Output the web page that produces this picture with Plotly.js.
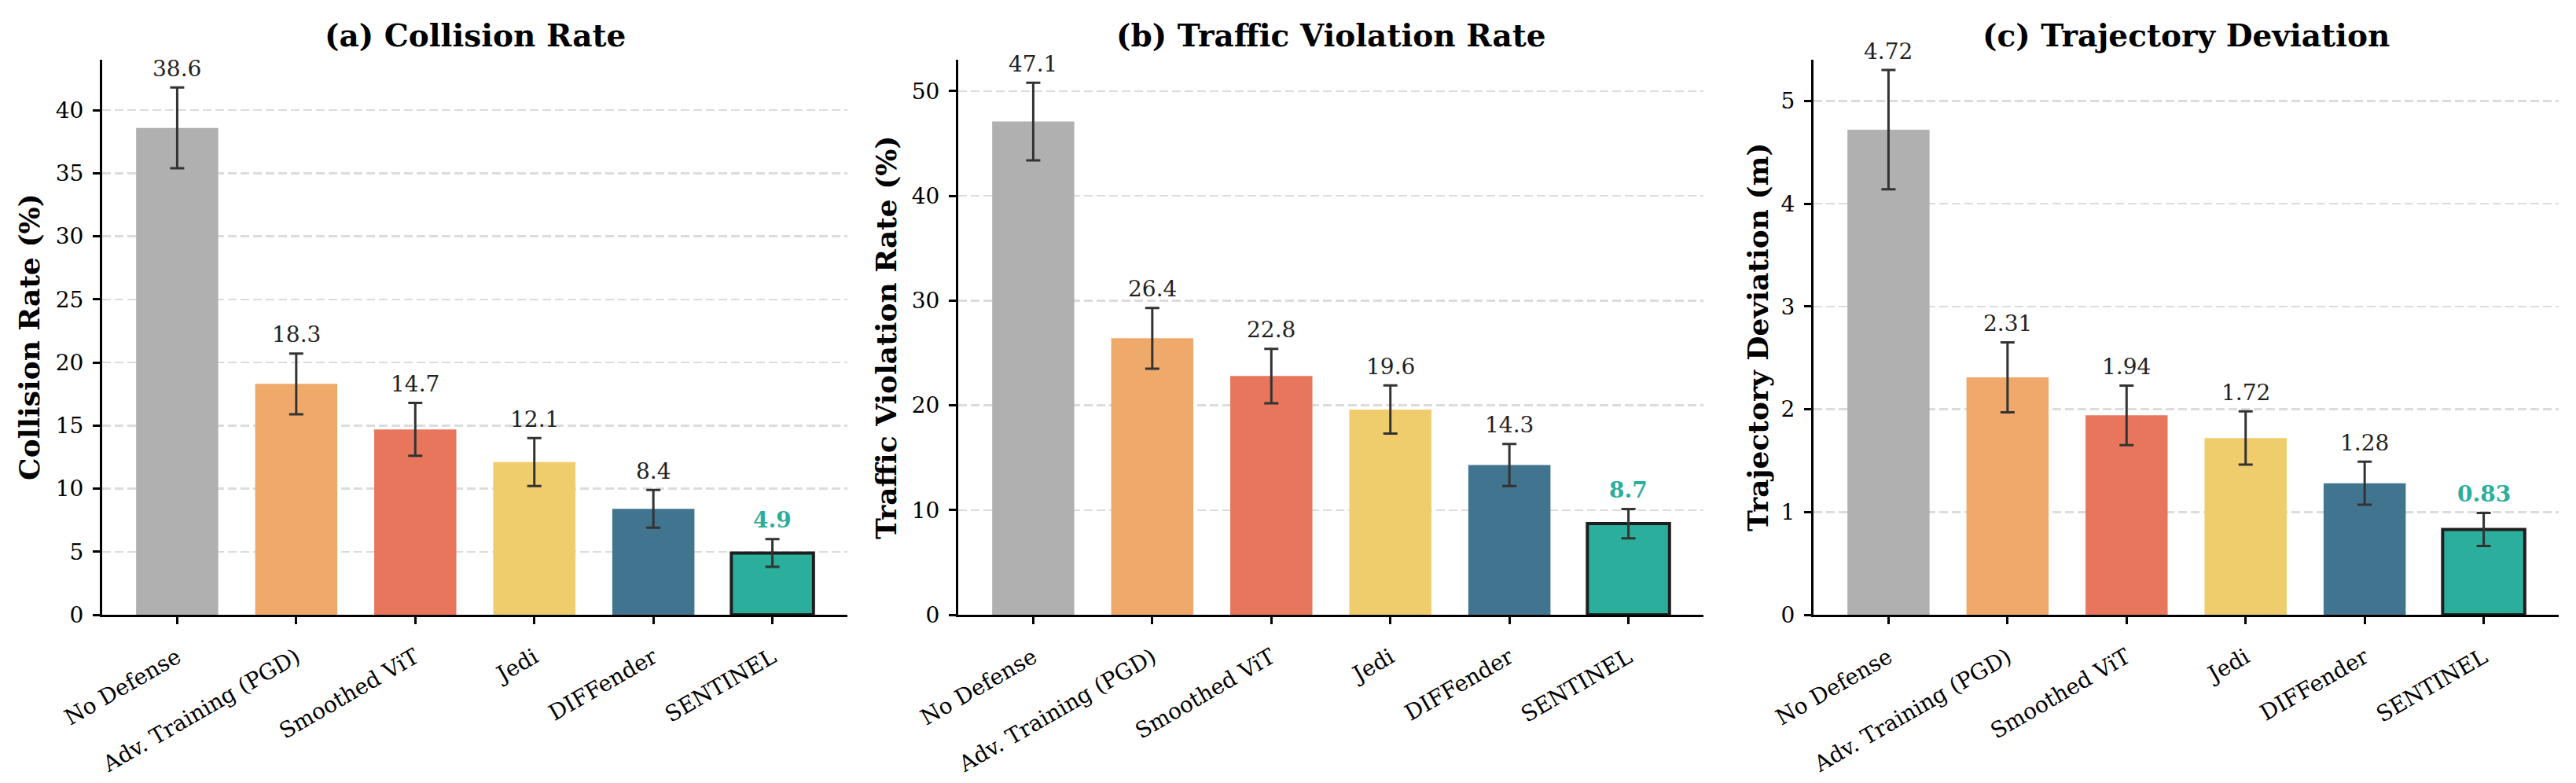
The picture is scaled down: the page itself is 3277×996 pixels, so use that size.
<!DOCTYPE html>
<html><head><meta charset="utf-8">
<script src="https://cdn.plot.ly/plotly-3.0.1.min.js"></script>
<style>html,body{margin:0;padding:0;background:#fff;} #chart{width:3277px;height:996px;}</style>
</head><body><div id="chart"></div>
<script>
// ---- data ----
const methods = ["No Defense", "Adv. Training (PGD)", "Smoothed ViT", "Jedi", "DIFFender", "SENTINEL"];
const collisionRate = [38.6, 18.3, 14.7, 12.1, 8.4, 4.9];
const collisionErr = [3.2, 2.4, 2.1, 1.9, 1.5, 1.1];
const violationRate = [47.1, 26.4, 22.8, 19.6, 14.3, 8.7];
const violationErr = [3.7, 2.9, 2.6, 2.3, 2.0, 1.4];
const trajDeviation = [4.72, 2.31, 1.94, 1.72, 1.28, 0.83];
const trajErr = [0.58, 0.34, 0.29, 0.26, 0.21, 0.16];
const panelTitles = ["(a) Collision Rate", "(b) Traffic Violation Rate", "(c) Trajectory Deviation"];
const yTitles = ["Collision Rate (%)", "Traffic Violation Rate (%)", "Trajectory Deviation (m)"];
const decimals = [1, 1, 2];
const yTickStep = [5, 10, 1];
const yMax = [44, 53, 5.4];

// ---- style ----
const W = 3277, H = 996;
const barColors = ["#B0B0B0", "#EFA96A", "#E8765C", "#F0CD6C", "#40748F", "#2BAE9C"];
const highlight = "#2BAE9C";
const FONT = "DejaVu Serif";
const xDomPx = [[130, 1078], [1219, 2167], [2307, 3255]];
const yLabelPx = [37, 1127, 2236];
const yDom = [(H - 782) / H, (H - 76) / H];

const series = [[collisionRate, collisionErr], [violationRate, violationErr], [trajDeviation, trajErr]];
const traces = [];
const annotations = [];
const layout = {
  width: W, height: H,
  margin: {l: 0, r: 0, t: 0, b: 0},
  paper_bgcolor: "#ffffff", plot_bgcolor: "#ffffff",
  showlegend: false,
  font: {family: FONT, color: "#000"},
};

series.forEach(([vals, errs], i) => {
  const sfx = i === 0 ? "" : String(i + 1);
  traces.push({
    type: "bar",
    x: methods, y: vals,
    xaxis: "x" + sfx, yaxis: "y" + sfx,
    width: 0.69,
    marker: {
      color: barColors,
      line: {color: "#1E1E1E", width: methods.map((m, k) => k === methods.length - 1 ? 4 : 0)}
    },
    error_y: {type: "data", array: errs, visible: true, color: "#333333", thickness: 3, width: 9},
    hoverinfo: "x+y"
  });
  const dom = [xDomPx[i][0] / W, xDomPx[i][1] / W];
  layout["xaxis" + sfx] = {
    domain: dom, anchor: "y" + sfx, type: "category",
    range: [-0.63, methods.length - 1 + 0.63],
    showline: true, linecolor: "#000", linewidth: 3,
    ticks: "outside", ticklen: 9, tickwidth: 3, tickcolor: "#000",
    ticklabelstandoff: 15,
    tickangle: -30, tickfont: {family: FONT, size: 28, color: "#000"},
    showgrid: false, zeroline: false, automargin: false, fixedrange: true
  };
  layout["yaxis" + sfx] = {
    domain: yDom, anchor: "x" + sfx,
    range: [0, yMax[i]], tick0: 0, dtick: yTickStep[i],
    showline: true, linecolor: "#000", linewidth: 3,
    ticks: "outside", ticklen: 9, tickwidth: 3, tickcolor: "#000",
    ticklabelstandoff: 6,
    tickfont: {family: FONT, size: 28, color: "#000"},
    showgrid: true, gridcolor: "#DCDCDC", gridwidth: 2.5, griddash: "11px,5px",
    zeroline: false, automargin: false, fixedrange: true
  };
  // panel title
  annotations.push({
    xref: "paper", yref: "paper", x: (dom[0] + dom[1]) / 2, y: 1 - 45 / H,
    xanchor: "center", yanchor: "middle", showarrow: false,
    text: panelTitles[i], font: {family: FONT, size: 39, weight: "bold", color: "#000"}
  });
  // y-axis title
  annotations.push({
    xref: "paper", yref: "paper", x: yLabelPx[i] / W, y: (yDom[0] + yDom[1]) / 2,
    xanchor: "center", yanchor: "middle", showarrow: false, textangle: -90,
    text: yTitles[i], font: {family: FONT, size: 36, weight: "bold", color: "#000"}
  });
  // value labels
  vals.forEach((v, k) => {
    const best = k === vals.length - 1;
    annotations.push({
      xref: "x" + sfx, yref: "y" + sfx, x: methods[k], y: v + errs[k],
      xanchor: "center", yanchor: "middle", yshift: 24, showarrow: false,
      text: v.toFixed(decimals[i]),
      font: {family: FONT, size: 28, color: best ? highlight : "#222222", weight: best ? "bold" : "normal"}
    });
  });
});
layout.annotations = annotations;

Plotly.newPlot("chart", traces, layout, {displayModeBar: false, staticPlot: true});
</script>
</body></html>
